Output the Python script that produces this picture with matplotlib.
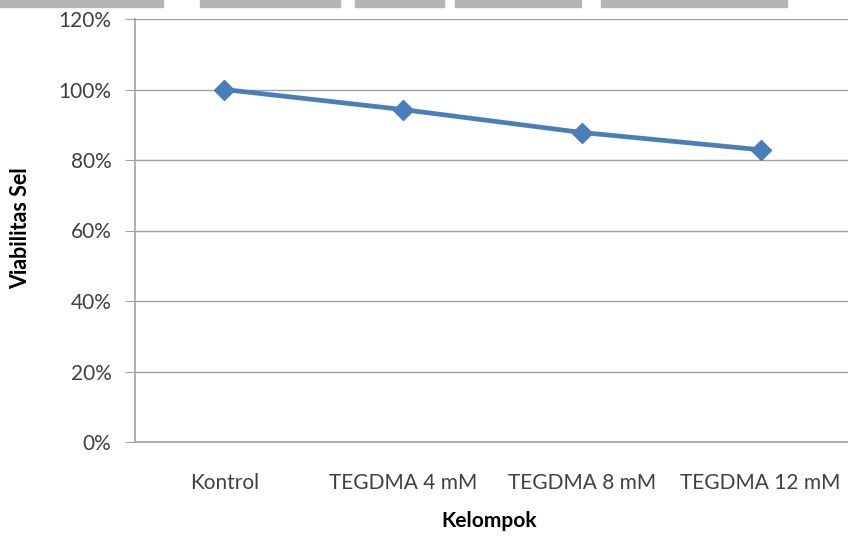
import matplotlib.pyplot as plt
from matplotlib.patches import Rectangle
from matplotlib.ticker import PercentFormatter

kelompok = ['Kontrol', 'TEGDMA 4 mM', 'TEGDMA 8 mM', 'TEGDMA 12 mM']
viabilitas = [100.0, 94.3, 87.8, 82.9]
yticks = [0, 20, 40, 60, 80, 100, 120]

plt.rcParams['font.family'] = ['Lato', 'DejaVu Sans']

W, H = 848, 540
fig = plt.figure(figsize=(W / 100, H / 100), dpi=100)

# grey banner strip at top of the scanned page
band = [(0, 163), (200, 340), (355, 444), (455, 581), (601, 787)]
for x0, x1 in band:
    fig.patches.append(Rectangle((x0 / W, 1 - 7 / H), (x1 - x0) / W, 7 / H,
                                 transform=fig.transFigure, color='#b4b4b4', zorder=0))

left, right = 135, 850
bottom, top = 442, 19
ax = fig.add_axes([left / W, 1 - bottom / H, (right - left) / W, (bottom - top) / H])

x = range(len(kelompok))
ax.plot(x, viabilitas, color='#4a7ebb', lw=3.4, marker='D', ms=10,
        markerfacecolor='#4a7ebb', markeredgecolor='#4a7ebb', zorder=3, clip_on=False)

ax.set_xlim(-0.5, len(kelompok) - 0.5)
ax.set_ylim(0, 120)
ax.set_yticks(yticks)
ax.yaxis.set_major_formatter(PercentFormatter(decimals=0))
ax.set_xticks(list(x))
ax.set_xticklabels(kelompok)
ax.grid(axis='y', color='#a0a0a0', lw=1)
ax.set_axisbelow(True)

for s in ['top', 'right']:
    ax.spines[s].set_visible(False)
for s in ['left', 'bottom']:
    ax.spines[s].set_color('#a0a0a0')
    ax.spines[s].set_linewidth(1.2)

ax.tick_params(axis='y', length=7, color='#a0a0a0', labelsize=15, labelcolor='#404040', pad=10)
ax.tick_params(axis='x', length=0, labelsize=15, labelcolor='#404040', pad=22)

ax.set_ylabel('Viabilitas Sel', fontsize=15.5, fontweight='bold')
ax.set_xlabel('Kelompok', fontsize=15, fontweight='bold')
ax.xaxis.set_label_coords((489 - left) / (right - left), -(511 - bottom) / (bottom - top))
ax.yaxis.set_label_coords(-(left - 31) / (right - left), (bottom - 228) / (bottom - top))

fig.savefig('out.png', dpi=100)
